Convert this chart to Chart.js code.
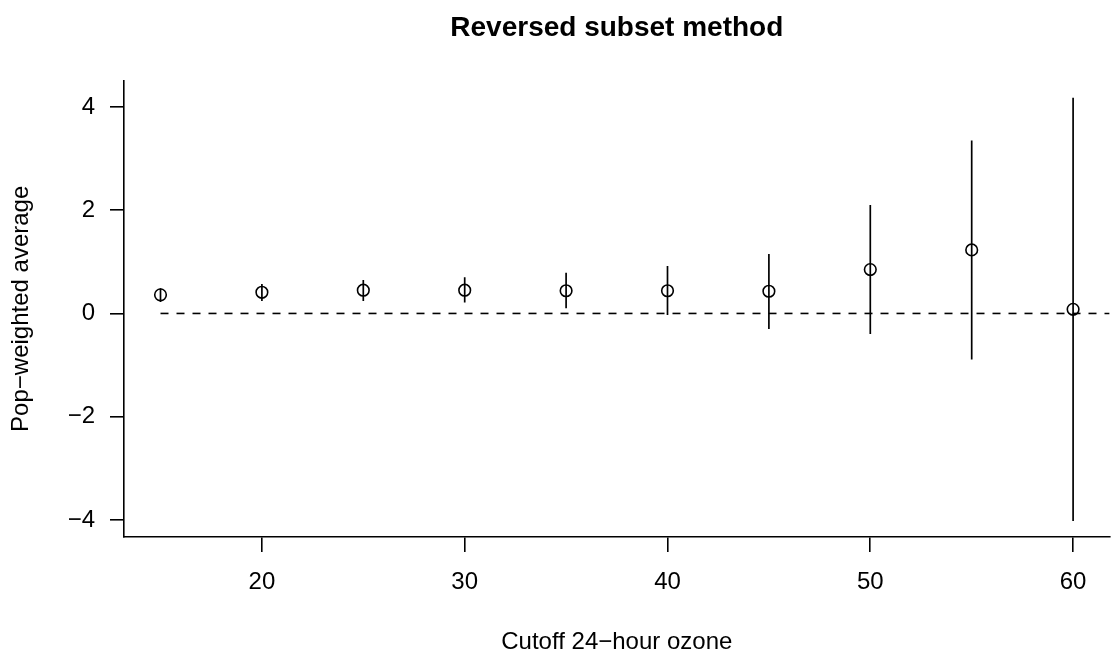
<!DOCTYPE html>
<html>
<head>
<meta charset="utf-8">
<script src="https://cdn.jsdelivr.net/npm/chart.js@4/dist/chart.umd.min.js"></script>
<style>
  body { margin: 0; background: #fff; }
  #wrap { width: 1117px; height: 655px; }
</style>
</head>
<body>
<div id="wrap"><canvas id="subsetChart" width="1117" height="655"></canvas></div>
<script>
// cutoffs and estimates
const cutoffs = [15, 20, 25, 30, 35, 40, 45, 50, 55, 60];
const estimates = [0.36, 0.41, 0.45, 0.45, 0.44, 0.44, 0.43, 0.85, 1.23, 0.08];
const lowerCI = [0.22, 0.24, 0.24, 0.21, 0.10, -0.03, -0.30, -0.40, -0.89, -4.02];
const upperCI = [0.49, 0.57, 0.65, 0.70, 0.79, 0.92, 1.15, 2.10, 3.35, 4.18];
const xTicks = [20, 30, 40, 50, 60];
const yTicks = [-4, -2, 0, 2, 4];
const refLine = [{x: 15, y: 0}, {x: 61.8, y: 0}];

const FONT = "'Liberation Sans', Arial, Helvetica, sans-serif";

function buildErrorBars() {
    let pts = [];
    cutoffs.forEach((c, i) => {
        pts.push({x: c, y: lowerCI[i]});
        pts.push({x: c, y: upperCI[i]});
        pts.push({x: c, y: null});
    });
    return pts;
}

let ctx = document.getElementById('subsetChart').getContext('2d');
let subsetChart = new Chart(ctx, {
    type: 'scatter',
    data: {
        datasets: [
            {
                type: 'line',
                data: refLine,
                borderColor: 'black',
                borderWidth: 1.6,
                borderDash: [8, 8],
                pointRadius: 0,
                fill: false
            },
            {
                type: 'line',
                data: buildErrorBars(),
                borderColor: 'black',
                borderWidth: 1.7,
                pointRadius: 0,
                spanGaps: false,
                fill: false
            },
            {
                data: cutoffs.map((c, i) => ({x: c, y: estimates[i]})),
                showLine: false,
                pointStyle: 'circle',
                pointRadius: 5.8,
                pointBorderWidth: 1.6,
                pointBorderColor: 'black',
                pointBackgroundColor: 'rgba(0,0,0,0)'
            }
        ]
    },
    options: {
        responsive: false,
        animation: false,
        layout: { padding: 0 },
        plugins: {
            legend: { display: false },
            tooltip: { enabled: false },
            title: {
                display: true,
                fullSize: false,
                text: 'Reversed subset method',
                color: 'black',
                font: { family: FONT, size: 28, weight: 'bold' },
                padding: { top: 11, bottom: 36 }
            }
        },
        scales: {
            x: {
                type: 'linear',
                min: 13.2,
                max: 61.8,
                afterFit(scale) {
                    scale.height = 118;
                    scale.paddingLeft = 0;
                    scale.paddingRight = 0;
                },
                afterBuildTicks(scale) { scale.ticks = xTicks.map(v => ({value: v})); },
                border: { display: true, color: 'black', width: 1.6 },
                grid: { drawOnChartArea: false, drawTicks: true, tickLength: 15, color: 'black', lineWidth: 1.6 },
                ticks: {
                    color: 'black',
                    padding: 16,
                    maxRotation: 0,
                    font: { family: FONT, size: 24 },
                    callback(value) { return String(value); }
                },
                title: {
                    display: true,
                    text: 'Cutoff 24\u2212hour ozone',
                    color: 'black',
                    font: { family: FONT, size: 24 },
                    padding: { top: 0, bottom: -2 }
                }
            },
            y: {
                type: 'linear',
                min: -4.33,
                max: 4.51,
                afterFit(scale) { scale.width = 124; },
                afterBuildTicks(scale) { scale.ticks = yTicks.map(v => ({value: v})); },
                border: { display: true, color: 'black', width: 1.6 },
                grid: { drawOnChartArea: false, drawTicks: true, tickLength: 14, color: 'black', lineWidth: 1.6 },
                ticks: {
                    color: 'black',
                    padding: 15,
                    font: { family: FONT, size: 24 },
                    callback(value) { return String(value).replace('-', '\u2212'); }
                },
                title: {
                    display: true,
                    text: 'Pop\u2212weighted average',
                    color: 'black',
                    font: { family: FONT, size: 24 },
                    padding: { top: 7, bottom: 0 }
                }
            }
        }
    }
});
</script>
</body>
</html>
